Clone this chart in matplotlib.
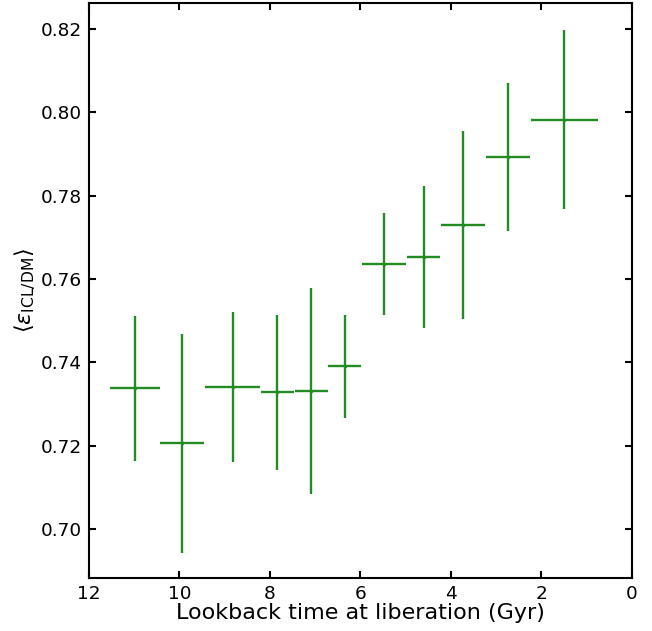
import matplotlib
matplotlib.use("Agg")
import matplotlib.pyplot as plt

# bins in lookback time (Gyr)
t_mid = [10.98, 9.94, 8.82, 7.84, 7.09, 6.35, 5.47, 4.60, 3.73, 2.74, 1.50]
t_lo = [10.43, 9.45, 8.21, 7.46, 6.72, 5.98, 4.99, 4.24, 3.24, 2.25, 0.76]
t_hi = [11.53, 10.43, 9.44, 8.20, 7.45, 6.71, 5.97, 4.97, 4.23, 3.23, 2.24]
eps = [0.7337, 0.7205, 0.7341, 0.7328, 0.7331, 0.7390, 0.7636, 0.7653, 0.7729, 0.7892, 0.7982]
eps_err = [0.0173, 0.0263, 0.0180, 0.0186, 0.0248, 0.0124, 0.0123, 0.0171, 0.0226, 0.0177, 0.0215]

xerr = [[m - lo for m, lo in zip(t_mid, t_lo)], [hi - m for m, hi in zip(t_mid, t_hi)]]

fig = plt.figure(figsize=(6.52, 6.31), dpi=100)
ax = fig.add_axes([0.1365, 0.084, 0.8328, 0.9112])

ax.errorbar(t_mid, eps, xerr=xerr, yerr=eps_err, fmt='.', color='forestgreen',
            ms=3, elinewidth=1.7, capsize=0)

ax.set_xlim(12, 0)
ax.set_ylim(0.6882, 0.8262)
ax.set_xticks([12, 10, 8, 6, 4, 2, 0])
ax.set_yticks([0.70, 0.72, 0.74, 0.76, 0.78, 0.80, 0.82])
ax.set_yticklabels(['0.70', '0.72', '0.74', '0.76', '0.78', '0.80', '0.82'])

ax.tick_params(direction='in', length=5, width=1.5, labelsize=13.3,
               top=True, right=True, pad=5)
for s in ax.spines.values():
    s.set_linewidth(1.5)

ax.set_xlabel('Lookback time at liberation (Gyr)', fontsize=16, labelpad=0)
ax.set_ylabel(r'$\langle \varepsilon_{\mathrm{ICL/DM}} \rangle$', fontsize=16, labelpad=2)

fig.savefig('out.png', dpi=100)
